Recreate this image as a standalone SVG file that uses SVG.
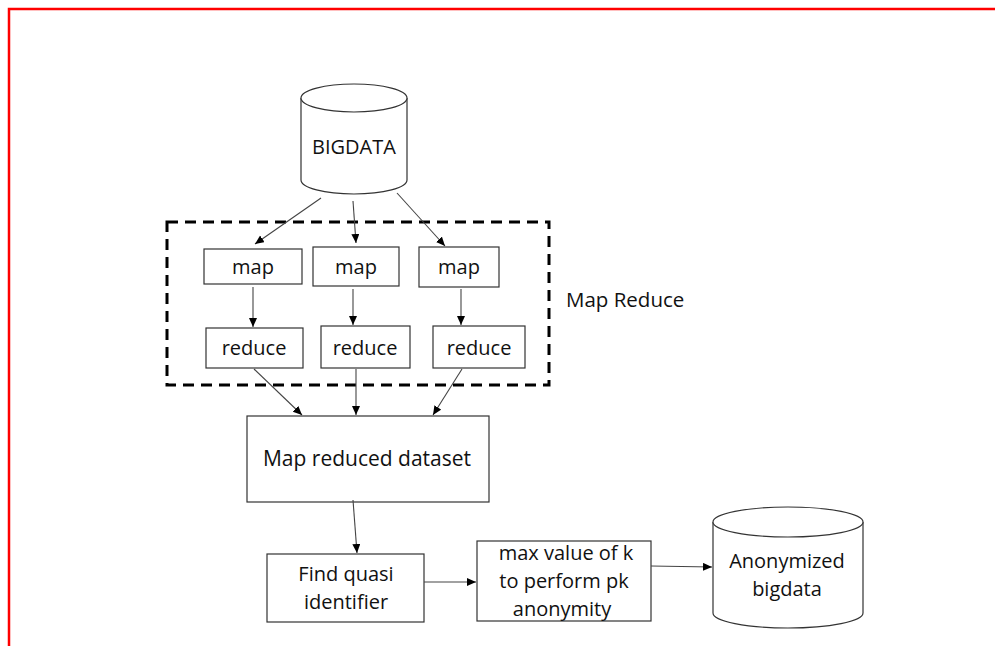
<svg xmlns="http://www.w3.org/2000/svg" width="995" height="646" viewBox="0 0 995 646">
<defs>
<marker id="ah" markerUnits="userSpaceOnUse" markerWidth="10" markerHeight="9" refX="9" refY="4" orient="auto">
<path d="M0,0 L9,4 L0,8 z" fill="#000"/>
</marker>
<style>
.box{fill:#fff;stroke:#333;stroke-width:1.2}
.t{font-family:"Open Sans","Liberation Sans",sans-serif;font-size:20px;fill:#111;text-anchor:middle}
.c{fill:none;stroke:#444;stroke-width:1.1;marker-end:url(#ah)}
</style>
</defs>
<rect width="995" height="646" fill="#fff"/>
<path d="M9,646 L9,9 L995,9" fill="none" stroke="#f00" stroke-width="2.5"/>

<g id="mapreduce-frame">
<rect x="167" y="222" width="382" height="163" fill="none" stroke="#000" stroke-width="3" stroke-dasharray="11 7"/>
<text class="t" x="566" y="307" style="text-anchor:start;font-size:20.5px">Map Reduce</text>
</g>

<g id="bigdata">
<path class="box" d="M301,98 L301,180 A53,14 0 0 0 407,180 L407,98"/>
<ellipse class="box" cx="354" cy="98" rx="53" ry="14"/>
<text class="t" x="354" y="154">BIGDATA</text>
</g>

<g id="map1"><rect class="box" x="204" y="249" width="98" height="35"/><text class="t" x="253" y="274">map</text></g>
<g id="map2"><rect class="box" x="313" y="247" width="86" height="39"/><text class="t" x="356" y="274">map</text></g>
<g id="map3"><rect class="box" x="419" y="247" width="80" height="40"/><text class="t" x="459" y="274">map</text></g>

<g id="reduce1"><rect class="box" x="206" y="328" width="97" height="40"/><text class="t" x="254" y="355">reduce</text></g>
<g id="reduce2"><rect class="box" x="321" y="326" width="89" height="42"/><text class="t" x="365" y="355">reduce</text></g>
<g id="reduce3"><rect class="box" x="433" y="326" width="92" height="42"/><text class="t" x="479" y="355">reduce</text></g>

<g id="dataset"><rect class="box" x="247" y="416" width="242" height="86"/><text class="t" x="367" y="466" style="font-size:21px">Map reduced dataset</text></g>

<g id="quasi"><rect class="box" x="267" y="554" width="157" height="68"/>
<text class="t" x="346" y="581">Find quasi</text><text class="t" x="346" y="609">identifier</text></g>

<g id="maxk"><rect class="box" x="477" y="541" width="174" height="80"/>
<text class="t" x="566" y="560">max value of k</text><text class="t" x="564" y="588">to perform pk</text><text class="t" x="562" y="616">anonymity</text></g>

<g id="anonymized">
<path class="box" d="M713,522 L713,613 A75,15 0 0 0 863,613 L863,522"/>
<ellipse class="box" cx="788" cy="522" rx="75" ry="15"/>
<text class="t" x="787" y="568">Anonymized</text><text class="t" x="787" y="596">bigdata</text>
</g>

<g id="connectors">
<line class="c" x1="321" y1="198" x2="255" y2="244"/>
<line class="c" x1="353" y1="201" x2="356" y2="243"/>
<line class="c" x1="397" y1="193" x2="445" y2="246"/>
<line class="c" x1="253" y1="287" x2="253" y2="327"/>
<line class="c" x1="353" y1="289" x2="353" y2="325"/>
<line class="c" x1="461" y1="289" x2="461" y2="325"/>
<line class="c" x1="254" y1="369" x2="302" y2="415"/>
<line class="c" x1="356" y1="369" x2="356" y2="415"/>
<line class="c" x1="462" y1="369" x2="433" y2="415"/>
<line class="c" x1="353" y1="500" x2="357" y2="553"/>
<line class="c" x1="424" y1="582" x2="476" y2="582"/>
<line class="c" x1="651" y1="566" x2="712" y2="567"/>
</g>
</svg>
